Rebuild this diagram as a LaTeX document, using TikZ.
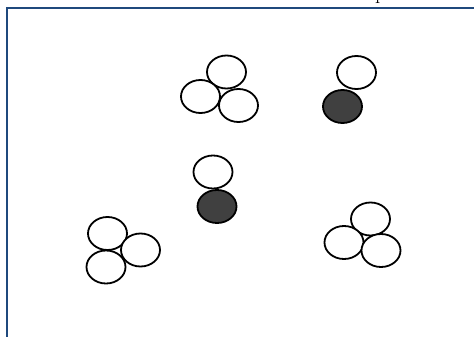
\documentclass[tikz,border=0pt]{standalone}
\usetikzlibrary{shapes.geometric}
\definecolor{framecol}{HTML}{1F497D}
\definecolor{darkfill}{HTML}{404040}
\tikzset{
  ball/.style={ellipse, draw=black, line width=1.8pt, fill=white, inner sep=0pt,
    minimum width=39pt, minimum height=33pt},
  darkball/.style={ball, fill=darkfill},
  frameline/.style={draw=framecol, line width=2pt}
}
\begin{document}
\begin{tikzpicture}[x=1pt,y=-1pt]
\useasboundingbox (0,0) rectangle (474,337);
\clip (0,0) rectangle (474,337);
% cut-off text at top
\node[anchor=base west, inner sep=0pt, font=\huge] (cut) at (375,0) {p};
% frame
\coordinate (fr) at (474,8);
\coordinate (fc) at (7,8);
\coordinate (fb) at (7,337);
\draw[frameline] (fr) -- (fc) -- (fb);
% top-left cluster
\node[ball] (a1) at (226.5,72) {};
\node[ball] (a2) at (200.5,96.5) {};
\node[ball] (a3) at (238.5,105.5) {};
% top-right pair
\node[ball] (b1) at (356.5,72.5) {};
\node[darkball] (b2) at (342.5,106.5) {};
% middle pair
\node[ball] (c1) at (213,172) {};
\node[darkball] (c2) at (217,206.5) {};
% bottom-left cluster
\node[ball] (d1) at (107.5,233.5) {};
\node[ball] (d2) at (140.5,250) {};
\node[ball] (d3) at (106,267) {};
% bottom-right cluster
\node[ball] (e1) at (370.5,219) {};
\node[ball] (e2) at (344,242.5) {};
\node[ball] (e3) at (381,250.5) {};
\end{tikzpicture}
\end{document}
